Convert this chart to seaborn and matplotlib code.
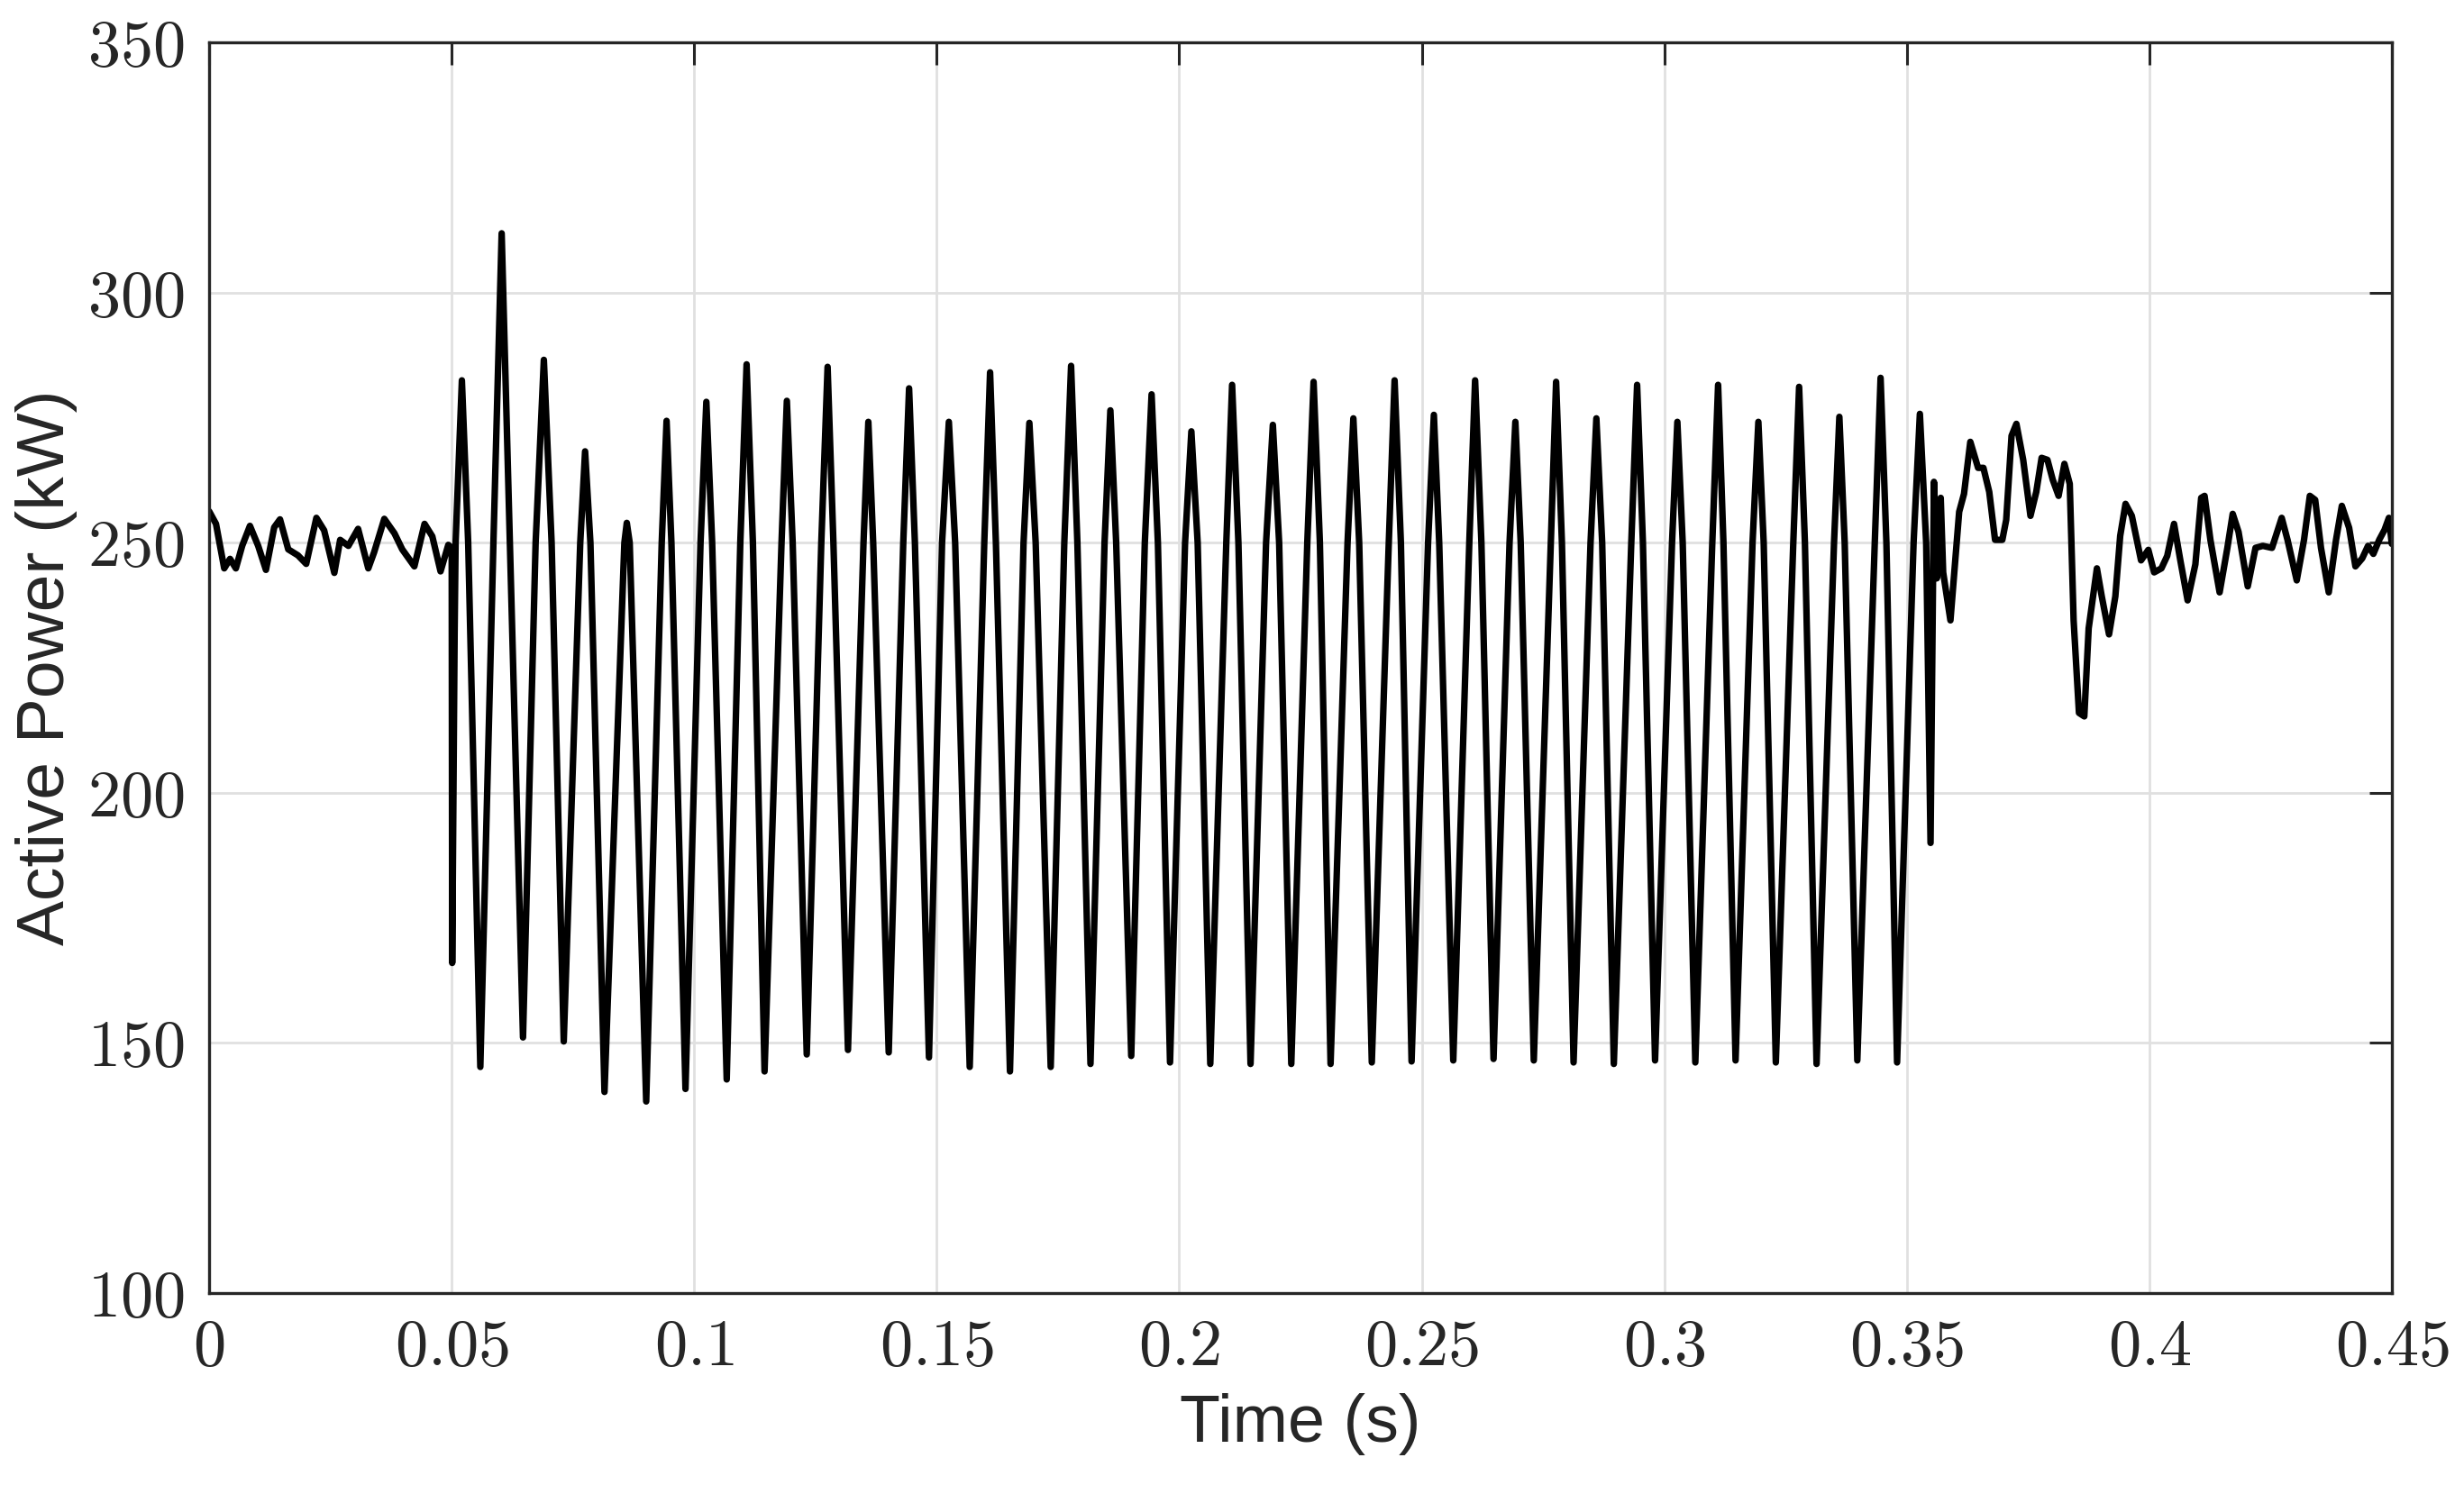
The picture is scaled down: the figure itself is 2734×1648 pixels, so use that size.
import numpy as np
import pandas as pd
import matplotlib
matplotlib.use("Agg")
import matplotlib.pyplot as plt
import seaborn as sns

# valores: antes de la falla (0 - 0.05 s)
pre_time = [0.0000, 0.0014, 0.0031, 0.0043, 0.0055, 0.0068, 0.0084, 0.0101, 0.0117, 0.0134,
            0.0146, 0.0163, 0.0183, 0.0200, 0.0221, 0.0237, 0.0258, 0.0270, 0.0287, 0.0307,
            0.0328, 0.0340, 0.0361, 0.0382, 0.0398, 0.0423, 0.0444, 0.0460, 0.0477, 0.0493,
            0.0500, 0.0501, 0.0506]
pre_power = [256.3, 253.8, 244.9, 246.8, 244.9, 249.4, 253.4, 249.4, 244.6, 253.1,
             254.7, 248.7, 247.5, 245.8, 255.0, 252.5, 244.0, 250.6, 249.4, 252.8,
             244.9, 248.1, 254.8, 251.9, 248.7, 245.3, 253.8, 251.3, 244.3, 249.6,
             249.0, 166.0, 232.0]

# oscilacion: maximos, cruces por 250 kW antes/despues de cada maximo, y minimos
peak_time = [0.0521, 0.0603, 0.0690, 0.0775, 0.0861, 0.0943, 0.1025, 0.1108, 0.1191, 0.1275,
             0.1359, 0.1443, 0.1525, 0.1610, 0.1691, 0.1777, 0.1858, 0.1943, 0.2025, 0.2109,
             0.2193, 0.2277, 0.2359, 0.2444, 0.2525, 0.2610, 0.2693, 0.2777, 0.2860, 0.2944,
             0.3027, 0.3111, 0.3194, 0.3278, 0.3361, 0.3446, 0.3527]
peak_power = [282.5, 311.9, 286.6, 268.3, 254.0, 274.4, 278.2, 285.7, 278.4, 285.2,
              274.2, 280.9, 274.2, 284.1, 274.0, 285.4, 276.5, 279.7, 272.3, 281.6,
              273.6, 282.2, 274.9, 282.5, 275.6, 282.5, 274.2, 282.2, 274.9, 281.6,
              274.2, 281.6, 274.2, 281.2, 275.2, 283.0, 275.8]
cross_up = [0.0508, 0.0586, 0.0673, 0.0765, 0.0856, 0.0933, 0.1013, 0.1095, 0.1180, 0.1262,
            0.1349, 0.1431, 0.1511, 0.1598, 0.1679, 0.1763, 0.1846, 0.1929, 0.2012, 0.2097,
            0.2179, 0.2264, 0.2347, 0.2432, 0.2513, 0.2598, 0.2681, 0.2766, 0.2848, 0.2932,
            0.3016, 0.3099, 0.3182, 0.3266, 0.3350, 0.3434, 0.3514]
cross_down = [0.0534, 0.0620, 0.0706, 0.0786, 0.0867, 0.0953, 0.1037, 0.1121, 0.1203, 0.1287,
              0.1369, 0.1455, 0.1538, 0.1622, 0.1704, 0.1790, 0.1870, 0.1956, 0.2038, 0.2122,
              0.2206, 0.2290, 0.2371, 0.2457, 0.2536, 0.2623, 0.2704, 0.2789, 0.2872, 0.2956,
              0.3038, 0.3122, 0.3205, 0.3290, 0.3372, 0.3458, 0.3540]
trough_time = [0.0559, 0.0647, 0.0731, 0.0815, 0.0901, 0.0982, 0.1067, 0.1145, 0.1232, 0.1317,
               0.1401, 0.1484, 0.1568, 0.1651, 0.1735, 0.1817, 0.1901, 0.1981, 0.2064, 0.2147,
               0.2231, 0.2312, 0.2397, 0.2479, 0.2565, 0.2648, 0.2731, 0.2813, 0.2896, 0.2981,
               0.3064, 0.3147, 0.3230, 0.3314, 0.3398, 0.3480]
trough_power = [145.2, 151.1, 150.3, 140.2, 138.3, 140.8, 142.7, 144.3, 147.7, 148.6,
                148.1, 147.1, 145.2, 144.3, 145.2, 145.8, 147.4, 146.1, 145.8, 145.8,
                145.8, 145.8, 146.1, 146.3, 146.5, 146.8, 146.5, 146.1, 145.8, 146.5,
                146.1, 146.5, 146.1, 145.8, 146.5, 146.1]
cross_level = 250.0

# recuperacion (0.355 - 0.45 s)
post_time = [0.3549, 0.3556, 0.3562, 0.3570, 0.3575, 0.3590, 0.3608, 0.3618, 0.3631, 0.3647,
             0.3658, 0.3670, 0.3682, 0.3697, 0.3705, 0.3716, 0.3726, 0.3740, 0.3755, 0.3767,
             0.3778, 0.3790, 0.3801, 0.3813, 0.3825, 0.3836, 0.3844, 0.3855, 0.3866, 0.3875,
             0.3892, 0.3902, 0.3917, 0.3930, 0.3940, 0.3951, 0.3964, 0.3983, 0.3998, 0.4010,
             0.4025, 0.4037, 0.4051, 0.4064, 0.4079, 0.4095, 0.4107, 0.4114, 0.4126, 0.4145,
             0.4161, 0.4172, 0.4184, 0.4203, 0.4219, 0.4234, 0.4253, 0.4273, 0.4285, 0.4304,
             0.4319, 0.4331, 0.4342, 0.4354, 0.4370, 0.4385, 0.4397, 0.4412, 0.4425, 0.4439,
             0.4451, 0.4462, 0.4474, 0.4485, 0.4494, 0.4500]
post_power = [190.0, 262.2, 242.9, 259.0, 244.1, 234.5, 256.2, 259.8, 270.2, 265.0,
              265.0, 260.2, 250.6, 250.6, 254.6, 271.4, 273.8, 266.6, 255.4, 260.2,
              267.0, 266.6, 262.6, 259.4, 265.8, 261.8, 234.5, 216.0, 215.3, 232.9,
              244.9, 239.3, 231.7, 239.3, 251.4, 257.8, 255.4, 246.5, 248.6, 244.1,
              244.9, 247.4, 253.8, 246.5, 238.5, 245.7, 259.0, 259.4, 250.6, 240.1,
              249.0, 255.8, 252.2, 241.3, 249.0, 249.4, 249.0, 255.0, 250.6, 242.5,
              250.6, 259.4, 258.6, 249.0, 240.1, 250.6, 257.4, 253.0, 245.3, 246.9,
              249.4, 247.8, 250.6, 252.6, 255.0, 249.8]

x_ticks = [0, 0.05, 0.1, 0.15, 0.2, 0.25, 0.3, 0.35, 0.4, 0.45]
x_labels = ["0", "0.05", "0.1", "0.15", "0.2", "0.25", "0.3", "0.35", "0.4", "0.45"]
y_ticks = [100, 150, 200, 250, 300, 350]

# armar la serie completa en orden
osc_t, osc_p = [], []
for i in range(len(peak_time)):
    osc_t += [cross_up[i], peak_time[i], cross_down[i]]
    osc_p += [cross_level, peak_power[i], cross_level]
    if i < len(trough_time):
        osc_t.append(trough_time[i])
        osc_p.append(trough_power[i])

df = pd.DataFrame({
    "Tiempo": pre_time + osc_t + post_time,
    "Potencia": pre_power + osc_p + post_power,
})

sns.set_style("white")
plt.rcParams["font.family"] = ["Liberation Sans", "DejaVu Sans"]
plt.rcParams["mathtext.fontset"] = "cm"

fig = plt.figure(figsize=(13.67, 8.24), dpi=200)
ax = fig.add_axes([0.0849, 0.1293, 0.8858, 0.8419])

sns.lineplot(data=df, x="Tiempo", y="Potencia", sort=False, estimator=None,
             color="black", linewidth=2.6, ax=ax)
for l in ax.lines:
    l.set_solid_joinstyle("round")

ax.set_xlim(0, 0.45)
ax.set_ylim(100, 350)
ax.set_xticks(x_ticks)
ax.set_xticklabels([f"${s}$" for s in x_labels], fontsize=26)
ax.set_yticks(y_ticks)
ax.set_yticklabels([f"${v}$" for v in y_ticks], fontsize=26)
ax.tick_params(direction="in", length=9, width=1.1, colors="#262626",
               top=True, right=True, pad=10)
ax.grid(True, color="#e0e0e0", linewidth=1.0)
ax.set_axisbelow(True)
for s in ax.spines.values():
    s.set_visible(True)
    s.set_color("#262626")
    s.set_linewidth(1.2)

ax.set_xlabel("Time (s)", fontsize=26.5, color="#262626", labelpad=6)
ax.set_ylabel("Active Power (kW)", fontsize=27, color="#262626", labelpad=4)

fig.savefig("out.png", dpi=200, facecolor="white")
